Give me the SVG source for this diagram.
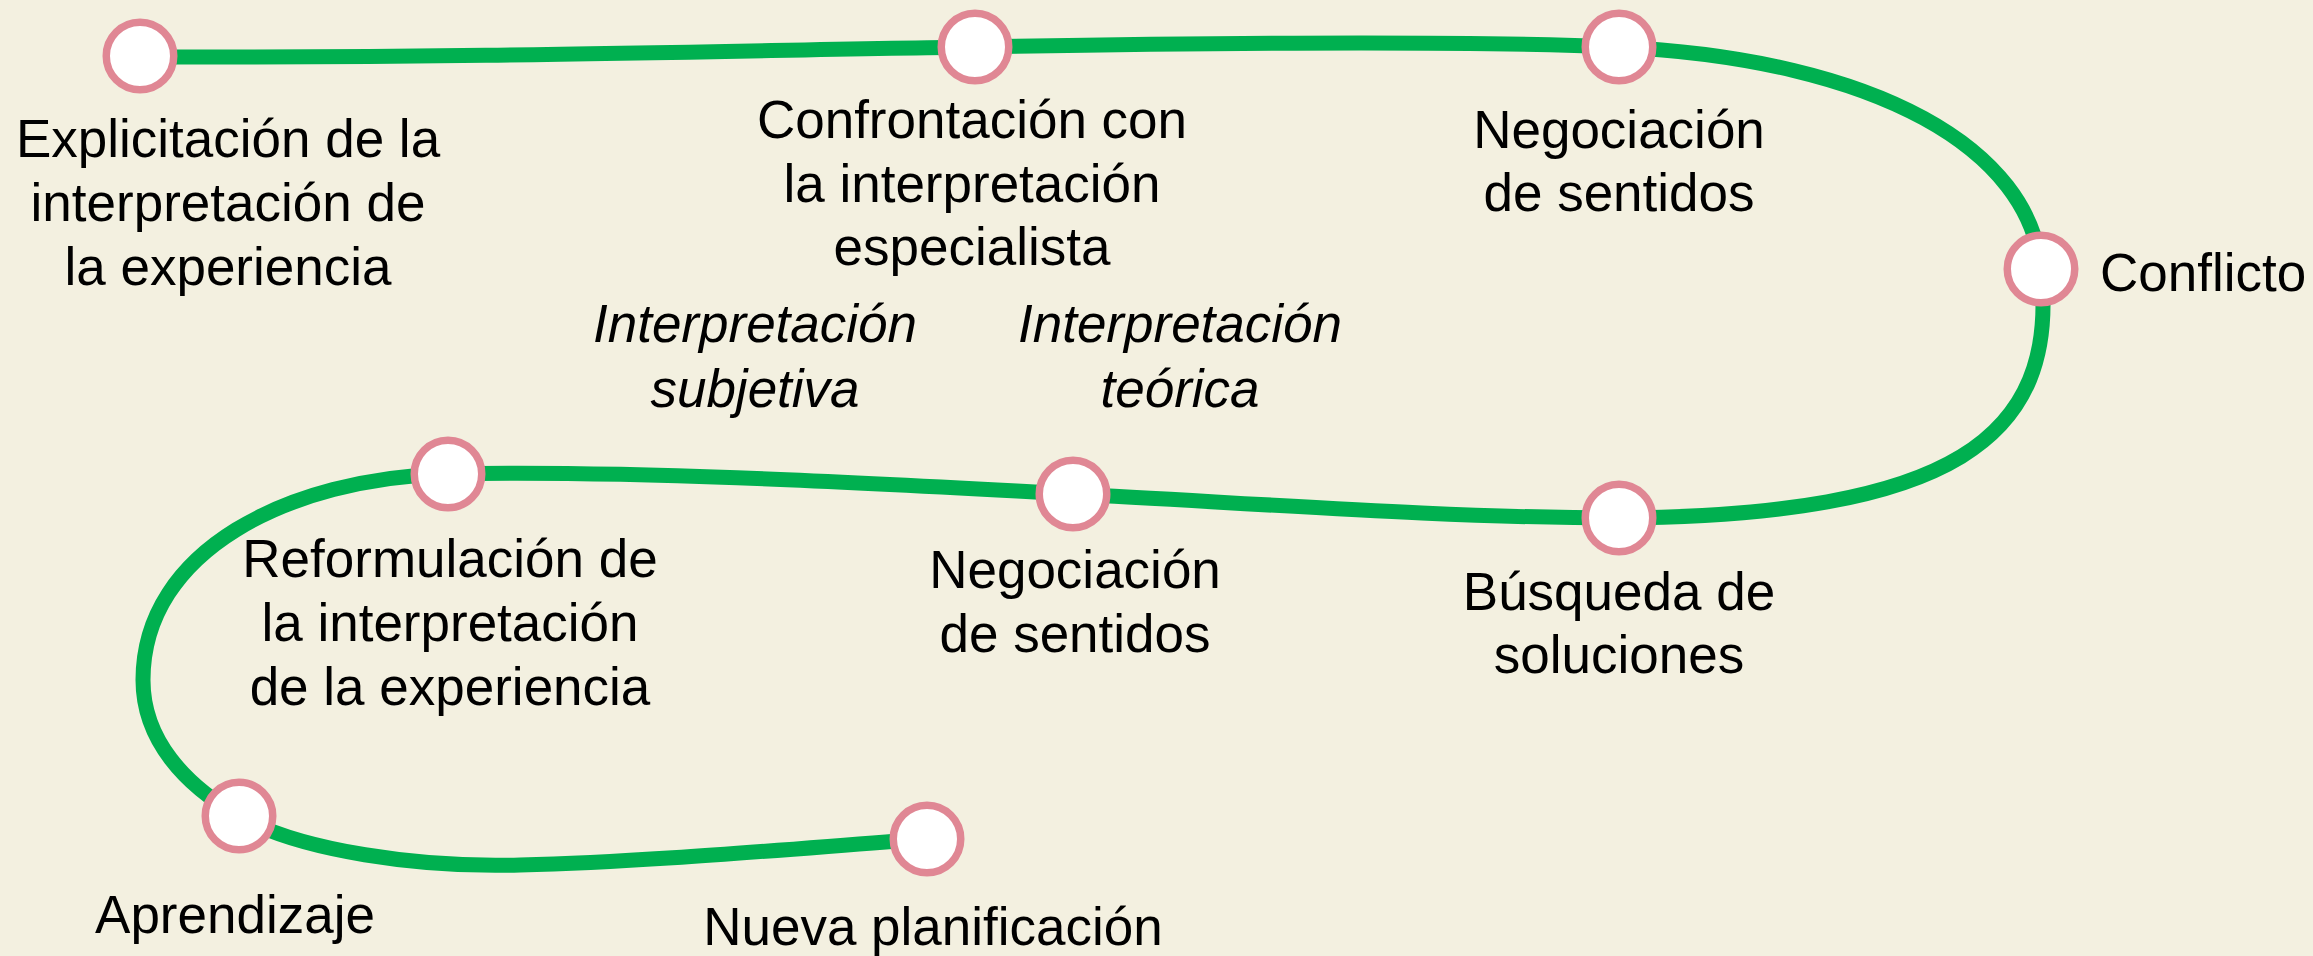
<svg xmlns="http://www.w3.org/2000/svg" width="2313" height="956" viewBox="0 0 2313 956">
<style>
.bg{fill:#F3F0E0}
.line{fill:none;stroke:#00B050;stroke-width:15;stroke-linecap:butt;stroke-linejoin:round}
.node{fill:#FFFFFF;stroke:#E08794;stroke-width:7.5}
.lbl{font-family:"Liberation Sans",Arial,sans-serif;font-size:53px;fill:#000000;text-anchor:middle}
.it{font-style:italic}
.start{text-anchor:start}
</style>
<rect class="bg" x="0" y="0" width="2313" height="956"/>
<g id="connectors">
<path class="line" d="M140,57 C500,58 750,50 975,47 C1200,43 1450,40 1619,47 C1880,60 2030,150 2041,269 C2060,440 1950,515 1619,518 C1450,518 1250,503 1073,494 C900,485 650,470 447,474 C290,478 143,550 143,680 C143,740 185,785 239,816 C300,851 420,868 520,865 C650,862 800,848 926,839"/>
</g>
<g id="node-explicitacion">
<circle class="node" cx="140" cy="56" r="33.75"/>
<text class="lbl" x="228" y="157">Explicitación de la</text>
<text class="lbl" x="228" y="221">interpretación de</text>
<text class="lbl" x="228" y="285">la experiencia</text>
</g>
<g id="node-confrontacion">
<circle class="node" cx="975" cy="47" r="33.75"/>
<text class="lbl" x="972" y="138">Confrontación con</text>
<text class="lbl" x="972" y="202">la interpretación</text>
<text class="lbl" x="972" y="265">especialista</text>
</g>
<g id="node-negociacion-1">
<circle class="node" cx="1619" cy="47" r="33.75"/>
<text class="lbl" x="1619" y="148">Negociación</text>
<text class="lbl" x="1619" y="211">de sentidos</text>
</g>
<g id="node-conflicto">
<circle class="node" cx="2041" cy="269" r="33.75"/>
<text class="lbl start" x="2100" y="291">Conflicto</text>
</g>
<g id="label-subjetiva">
<text class="lbl it" x="755" y="342">Interpretación</text>
<text class="lbl it" x="755" y="407">subjetiva</text>
</g>
<g id="label-teorica">
<text class="lbl it" x="1180" y="342">Interpretación</text>
<text class="lbl it" x="1180" y="407">teórica</text>
</g>
<g id="node-busqueda">
<circle class="node" cx="1619" cy="518" r="33.75"/>
<text class="lbl" x="1619" y="610">Búsqueda de</text>
<text class="lbl" x="1619" y="673">soluciones</text>
</g>
<g id="node-negociacion-2">
<circle class="node" cx="1073" cy="494" r="33.75"/>
<text class="lbl" x="1075" y="588">Negociación</text>
<text class="lbl" x="1075" y="652">de sentidos</text>
</g>
<g id="node-reformulacion">
<circle class="node" cx="448" cy="474" r="33.75"/>
<text class="lbl" x="450" y="577">Reformulación de</text>
<text class="lbl" x="450" y="641">la interpretación</text>
<text class="lbl" x="450" y="705">de la experiencia</text>
</g>
<g id="node-aprendizaje">
<circle class="node" cx="239" cy="816" r="33.75"/>
<text class="lbl" x="235" y="933">Aprendizaje</text>
</g>
<g id="node-nueva">
<circle class="node" cx="927" cy="839" r="33.75"/>
<text class="lbl" x="933" y="945">Nueva planificación</text>
</g>
</svg>
